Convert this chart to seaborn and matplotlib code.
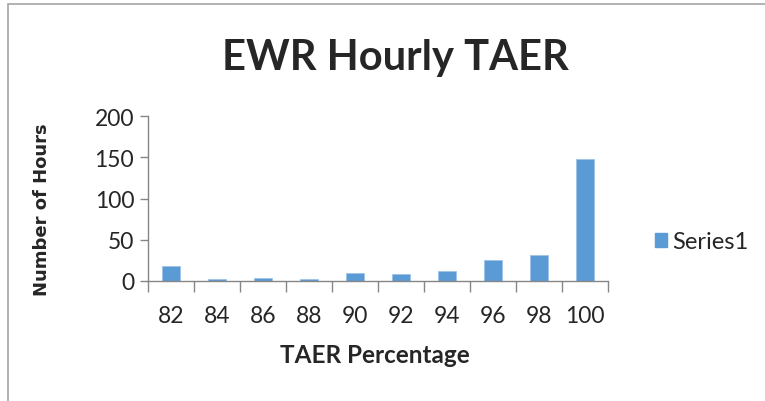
import numpy as np
import pandas as pd
import seaborn as sns
import matplotlib.pyplot as plt
from matplotlib.patches import Patch, Rectangle

# data
taer_pct = ["82", "84", "86", "88", "90", "92", "94", "96", "98", "100"]
hours = [18, 3, 4, 3, 10, 9, 12, 25, 32, 148]
series_name = "Series1"

sns.set_theme(style="white")
plt.rcParams['font.family'] = ['Lato', 'DejaVu Sans']

barColor = "#5B9BD5"
axisGrey = "#868686"

df = pd.DataFrame({"taer": taer_pct, "hours": hours})

fig = plt.figure(figsize=(7.65, 4.02), dpi=100)
ax = fig.add_axes([148 / 765, 1 - 282 / 402, 460 / 765, 165 / 402])

sns.barplot(data=df, x="taer", y="hours", color=barColor, width=0.4,
            saturation=1, edgecolor="#9DC3E6", linewidth=0.6, ax=ax)

ax.set_xlim(-0.5, len(taer_pct) - 0.5)
ax.set_ylim(0, 200)
ax.set_yticks([0, 50, 100, 150, 200])

# excel style: tick marks between categories
ax.set_xticks(np.arange(-0.5, len(taer_pct), 1), minor=True)
ax.tick_params(axis="x", which="major", length=0, pad=17, labelsize=16.5)
ax.tick_params(axis="x", which="minor", length=8, width=1, color=axisGrey, bottom=True)
ax.tick_params(axis="y", which="major", length=6, width=1, color=axisGrey, left=True,
               pad=4, labelsize=16.5)

for side in ["top", "right"]:
    ax.spines[side].set_visible(False)
for side in ["left", "bottom"]:
    ax.spines[side].set_color(axisGrey)
    ax.spines[side].set_linewidth(1)

ax.set_xlabel("TAER Percentage", fontsize=17.5, fontweight="bold")
ax.xaxis.label.set_va("center")
ax.xaxis.set_label_coords((375 - 148) / 460, (282 - 356) / 165)

ax.set_ylabel("Number of Hours", fontsize=13, fontweight="bold", family=["DejaVu Sans"])
ax.yaxis.label.set_va("center")
ax.yaxis.set_label_coords((42 - 148) / 460, (282 - 210) / 165)

fig.text(395 / 765, 1 - 58 / 402, "EWR Hourly TAER", fontsize=30, fontweight="bold",
         ha="center", va="center")

legendHandle = [Patch(facecolor=barColor, edgecolor=barColor, label=series_name)]
fig.legend(handles=legendHandle, loc="center left", bbox_to_anchor=(634 / 765, 1 - 243 / 402),
           frameon=False, fontsize=17, handlelength=0.5, handleheight=0.5, handletextpad=0.2)

# chart border like the excel chart area
fig.patches.append(Rectangle((8 / 765, -0.1), 1.1, 1.1 - 5 / 402, transform=fig.transFigure,
                             fill=False, edgecolor="#A6A6A6", linewidth=1.2))

fig.savefig("out.png", dpi=100)
